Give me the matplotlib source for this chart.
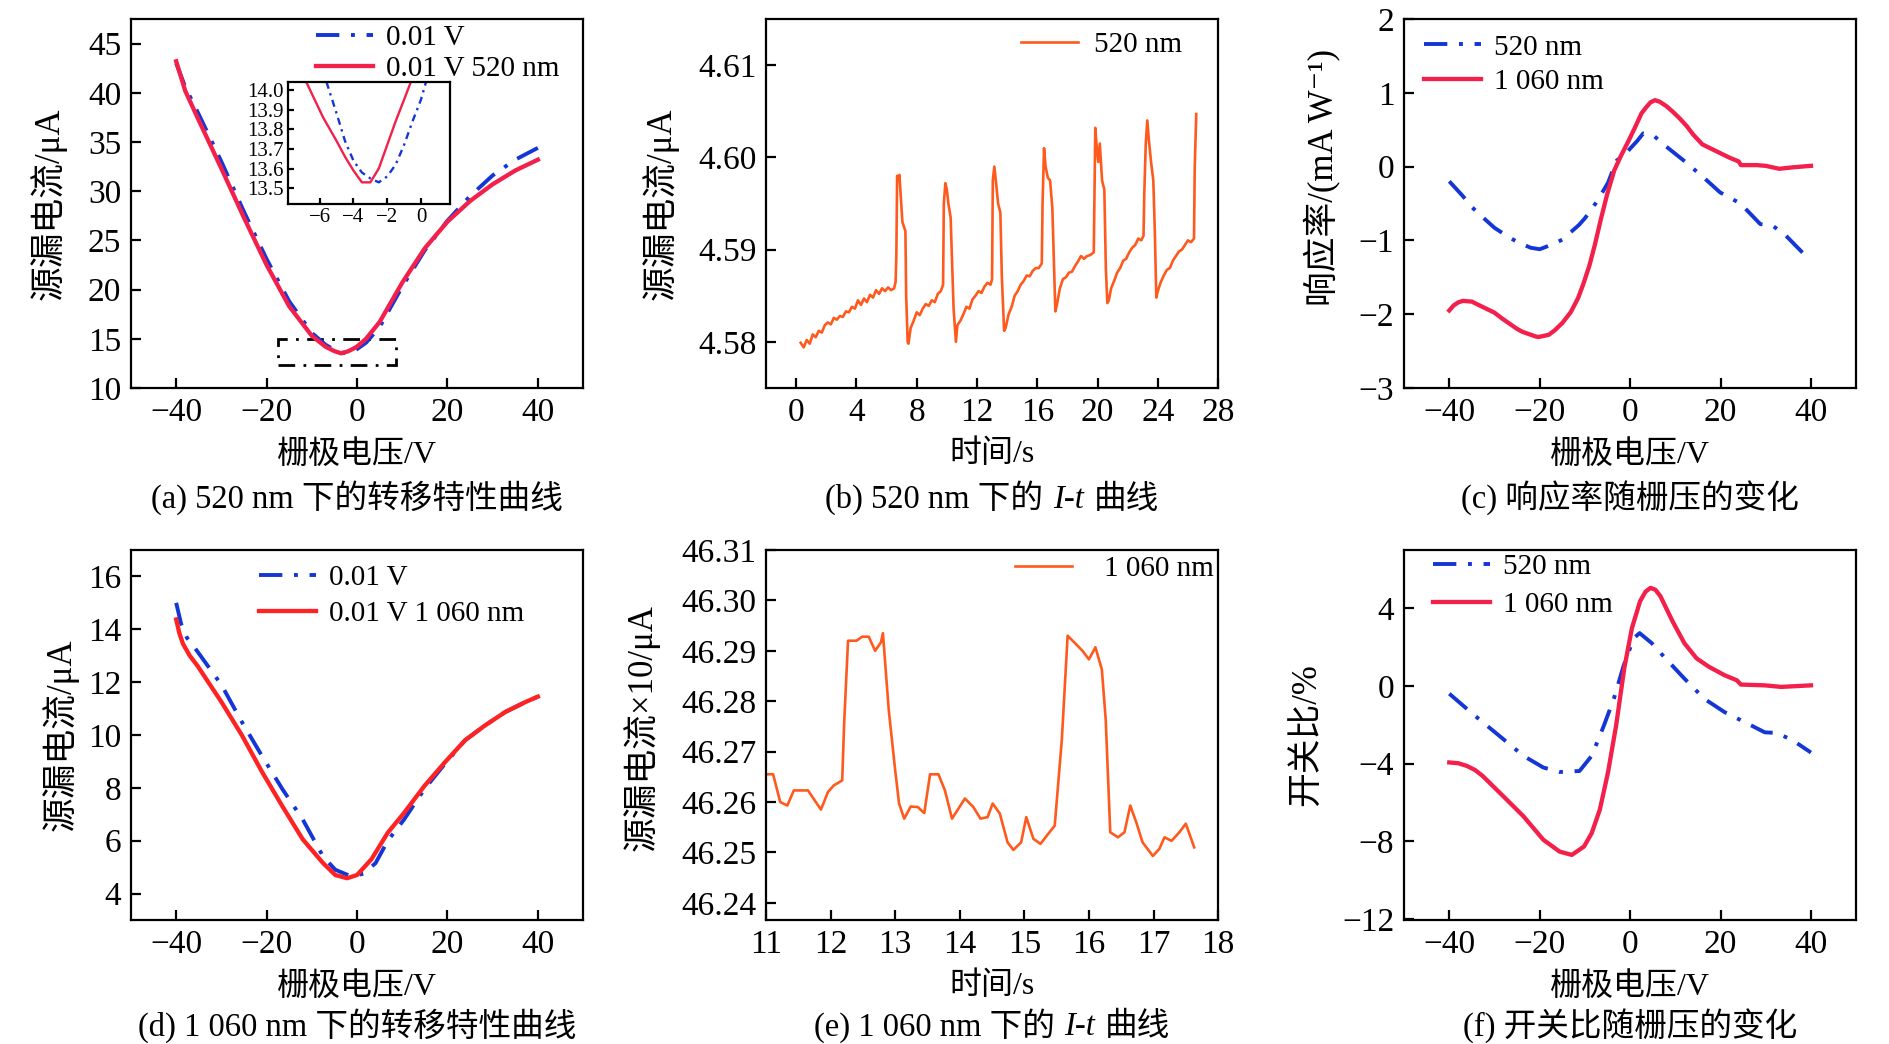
import matplotlib
matplotlib.use("Agg")
import matplotlib.pyplot as plt
from matplotlib.patches import Rectangle
from matplotlib.offsetbox import TextArea, HPacker, AnchoredOffsetbox

plt.rcParams['font.family'] = ['Liberation Serif', 'Noto Sans CJK SC', 'DejaVu Sans']
plt.rcParams['axes.unicode_minus'] = True

# ---- (a) transfer curve, 520 nm ----
a_dark_x = [-40, -38, -35, -30, -25, -20, -15, -10, -7, -5, -3, -2.5, -1, 0, 2, 5, 10, 15, 20, 25, 30, 35, 40]
a_dark_y = [43.0, 40.6, 37.8, 33.0, 27.9, 23.1, 18.8, 15.6, 14.4, 13.88, 13.55, 13.53, 13.72, 13.95, 14.6, 16.2,
            20.3, 24.0, 27.0, 29.5, 31.6, 33.2, 34.4]
a_light_x = [-40, -38, -35, -30, -25, -20, -15, -10, -7, -5, -3.5, -2, -1, 0, 2, 5, 10, 15, 20, 25, 30, 35, 40]
a_light_y = [43.2, 40.2, 37.2, 32.3, 27.3, 22.5, 18.3, 15.3, 14.2, 13.74, 13.52, 13.72, 13.95, 14.2, 15.0, 16.7,
             20.7, 24.2, 26.9, 29.0, 30.7, 32.1, 33.2]
inset_dark_x = [-5.6, -5, -4.5, -4, -3.5, -3, -2.5, -2, -1.5, -1, -0.5, 0, 0.3]
inset_dark_y = [14.04, 13.88, 13.74, 13.64, 13.58, 13.55, 13.53, 13.56, 13.62, 13.72, 13.84, 13.95, 14.04]
inset_light_x = [-6.8, -6.3, -5.8, -5, -4.5, -4, -3.5, -3, -2.5, -2, -1.5, -1, -0.6]
inset_light_y = [14.04, 13.95, 13.86, 13.74, 13.66, 13.59, 13.53, 13.53, 13.6, 13.72, 13.84, 13.95, 14.04]
zoom_box_x = [-17.4, 8.6]
zoom_box_y = [12.3, 15.0]

# ---- (b) I-t, 520 nm ----
b_t = [0.3, 0.5, 0.7, 0.9, 1.1, 1.3, 1.5, 1.7, 1.9, 2.1, 2.3, 2.5, 2.7, 2.9, 3.1, 3.3, 3.5, 3.7, 3.9, 4.1,
       4.3, 4.5, 4.7, 4.9, 5.1, 5.3, 5.5, 5.7, 5.9, 6.1, 6.3, 6.5,
       6.6, 6.65, 6.7, 6.8, 6.85, 6.95, 7.05, 7.25, 7.3, 7.4, 7.45,
       7.6, 7.8, 8.0, 8.2, 8.4, 8.6, 8.8, 9.0, 9.2, 9.4, 9.6, 9.75,
       9.8, 9.9, 10.0, 10.1, 10.25, 10.45, 10.6,
       10.7, 10.9, 11.1, 11.3, 11.5, 11.7, 11.9, 12.1, 12.3, 12.5, 12.7, 12.9, 13.0,
       13.05, 13.15, 13.25, 13.4, 13.55, 13.65, 13.8, 13.9,
       14.1, 14.3, 14.5, 14.7, 14.9, 15.1, 15.3, 15.5, 15.7, 15.9, 16.1, 16.3,
       16.35, 16.45, 16.55, 16.7, 16.85, 17.0, 17.1, 17.2, 17.3,
       17.5, 17.7, 17.9, 18.1, 18.3, 18.5, 18.7, 18.9, 19.1, 19.3, 19.5, 19.75,
       19.8, 19.85, 19.95, 20.05, 20.15, 20.3, 20.45, 20.55, 20.65, 20.75,
       20.9, 21.1, 21.3, 21.5, 21.7, 21.9, 22.1, 22.3, 22.5, 22.7, 22.9, 23.05,
       23.1, 23.2, 23.3, 23.4, 23.55, 23.7, 23.8, 23.9, 24.0,
       24.2, 24.4, 24.6, 24.8, 25.0, 25.2, 25.4, 25.6, 25.8, 26.0, 26.2, 26.4,
       26.45, 26.55]
b_i = [4.5799, 4.5794, 4.5802, 4.5798, 4.5808, 4.5805, 4.5812, 4.5810, 4.5818, 4.5821, 4.5819, 4.5826,
       4.5824, 4.5828, 4.5827, 4.5833, 4.5832, 4.5838, 4.5836, 4.5845, 4.5840, 4.5847, 4.5843, 4.5851,
       4.5848, 4.5856, 4.5852, 4.5858, 4.5855, 4.5859, 4.5856, 4.5858,
       4.5865, 4.5895, 4.5980, 4.5975, 4.5981, 4.5955, 4.5930, 4.5920, 4.5850, 4.5800, 4.5798,
       4.5815, 4.5823, 4.5832, 4.5829, 4.5836, 4.5841, 4.5839, 4.5845, 4.5843, 4.5852, 4.5855, 4.5862,
       4.5950, 4.5972, 4.5965, 4.5950, 4.5935, 4.5835, 4.5800,
       4.5818, 4.5823, 4.5830, 4.5838, 4.5836, 4.5846, 4.5850, 4.5855, 4.5853, 4.5860, 4.5864, 4.5862, 4.5868,
       4.5975, 4.5990, 4.5975, 4.5950, 4.5940, 4.5870, 4.5812, 4.5815,
       4.5830, 4.5838, 4.5850, 4.5855, 4.5862, 4.5866, 4.5872, 4.5871, 4.5877, 4.5880, 4.5880, 4.5885,
       4.5950, 4.6010, 4.5990, 4.5978, 4.5975, 4.5945, 4.5890, 4.5833, 4.5840,
       4.5858, 4.5868, 4.5870, 4.5875, 4.5876, 4.5882, 4.5887, 4.5893, 4.5890, 4.5893, 4.5894, 4.5897,
       4.5960, 4.6032, 4.6010, 4.5995, 4.6015, 4.5975, 4.5965, 4.5880, 4.5842, 4.5845,
       4.5858, 4.5866, 4.5875, 4.5880, 4.5888, 4.5890, 4.5897, 4.5902, 4.5905, 4.5912, 4.5910, 4.5915,
       4.5960, 4.6015, 4.6040, 4.6020, 4.5995, 4.5975, 4.5920, 4.5848, 4.5855,
       4.5865, 4.5872, 4.5878, 4.5880, 4.5888, 4.5893, 4.5898, 4.5900, 4.5905, 4.5910, 4.5908, 4.5912,
       4.5990, 4.6047]

# ---- (c) responsivity ----
c_520_x = [-40, -37, -35, -32, -30, -27, -25, -22, -20, -17, -15, -11.3, -10, -7.3, -4.9, -3, -1.1, 1.6, 2.9,
           5.2, 7.4, 11.9, 16.3, 19.9, 24.4, 28.8, 31.5, 34.2, 39.0]
c_520_y = [-0.2, -0.4, -0.55, -0.72, -0.83, -0.95, -1.02, -1.1, -1.12, -1.05, -0.99, -0.79, -0.7, -0.47,
           -0.22, 0.08, 0.17, 0.35, 0.45, 0.42, 0.3, 0.08, -0.15, -0.35, -0.5, -0.78, -0.8, -0.92, -1.22]
c_1060_x = [-40, -39, -38, -37, -35, -33.7, -30, -28.3, -25, -23.8, -21, -20.3, -18, -16.7, -15, -13.1, -11.5,
            -10.4, -9, -7.8, -6.5, -5.1, -3.5, -2, -0.5, 1, 2.5, 3.5, 4.5, 5.5, 6.5, 8, 9.5, 11, 12.5, 14, 16,
            18, 20, 22, 24, 24.5, 28, 30, 33, 36, 40]
c_1060_y = [-1.95, -1.88, -1.84, -1.82, -1.83, -1.87, -1.98, -2.06, -2.2, -2.24, -2.3, -2.31, -2.28, -2.22,
            -2.12, -1.97, -1.78, -1.6, -1.34, -1.06, -0.72, -0.38, -0.05, 0.15, 0.33, 0.52, 0.72, 0.8, 0.87,
            0.9, 0.88, 0.82, 0.74, 0.65, 0.55, 0.43, 0.3, 0.24, 0.18, 0.12, 0.07, 0.02, 0.02, 0.01, -0.03,
            -0.01, 0.01]

# ---- (d) transfer curve, 1060 nm ----
d_dark_x = [-40, -38.9, -37.6, -35.3, -30, -25.5, -21, -16.5, -12, -7.5, -4.8, -1.3, 1.4, 4.1, 6.8, 10.4,
            14.9, 19.4, 23.9, 28.3, 32.8, 37.3, 40]
d_dark_y = [15.0, 14.2, 13.67, 13.16, 11.9, 10.5, 9.2, 7.95, 6.8, 5.4, 4.9, 4.65, 4.75, 5.15, 6.0, 6.8,
            7.95, 8.9, 9.8, 10.36, 10.87, 11.25, 11.45]
d_light_x = [-40, -39.3, -38.5, -37, -35.3, -30, -25.5, -21, -16.5, -12, -7.5, -4.8, -2.2, 0, 3.2, 6.8, 10.4,
             14.9, 19.4, 23.9, 28.3, 32.8, 37.3, 40]
d_light_y = [14.37, 13.85, 13.45, 13.0, 12.62, 11.25, 10.0, 8.6, 7.3, 6.05, 5.15, 4.7, 4.58, 4.7, 5.3, 6.3,
             7.05, 8.07, 8.96, 9.8, 10.36, 10.87, 11.25, 11.45]

# ---- (e) I-t, 1060 nm ----
e_t = [11.0, 11.11, 11.22, 11.33, 11.43, 11.65, 11.85, 11.96, 12.05, 12.18, 12.21, 12.27, 12.4, 12.49, 12.59,
       12.69, 12.78, 12.81, 12.9, 13.0, 13.06, 13.14, 13.24, 13.35, 13.45, 13.54, 13.67, 13.77, 13.88, 13.98,
       14.08, 14.21, 14.32, 14.43, 14.51, 14.62, 14.74, 14.83, 14.95, 15.03, 15.14, 15.25, 15.37, 15.47, 15.58,
       15.67, 15.77, 15.9, 16.0, 16.1, 16.2, 16.26, 16.33, 16.45, 16.55, 16.64, 16.74, 16.83, 16.99, 17.09,
       17.17, 17.28, 17.4, 17.5, 17.63]
e_i = [46.2655, 46.2655, 46.2600, 46.2593, 46.2623, 46.2623, 46.2585, 46.2620, 46.2633, 46.2643, 46.2757,
       46.2920, 46.2920, 46.2928, 46.2928, 46.2900, 46.2917, 46.2935, 46.2783, 46.2663, 46.2597, 46.2567,
       46.2591, 46.2590, 46.2578, 46.2655, 46.2655, 46.2623, 46.2567, 46.2587, 46.2607, 46.2590, 46.2567,
       46.2570, 46.2597, 46.2577, 46.2520, 46.2505, 46.2520, 46.2570, 46.2527, 46.2517, 46.2537, 46.2553,
       46.2723, 46.2930, 46.2917, 46.2900, 46.2883, 46.2907, 46.2863, 46.2763, 46.2540, 46.2530, 46.2540,
       46.2593, 46.2557, 46.2520, 46.2493, 46.2507, 46.2530, 46.2523, 46.2540, 46.2557, 46.2510]

# ---- (f) on/off ratio ----
f_520_x = [-40, -34.4, -28.1, -23.6, -19.2, -15.6, -11.2, -8.5, -5.8, -3.6, -1.4, 0.8, 2.1, 4.8, 7.5, 12,
           16.4, 20.9, 25.4, 29.8, 32.5, 36.1, 40]
f_520_y = [-0.4, -1.52, -2.73, -3.6, -4.2, -4.43, -4.38, -3.6, -2.04, -0.66, 1.07, 2.46, 2.72, 2.2, 1.5, 0.38,
           -0.66, -1.35, -1.87, -2.39, -2.42, -2.82, -3.43]
f_1060_x = [-40, -38, -36.1, -34.3, -32.6, -28.1, -23.6, -19.2, -15.6, -12.9, -10.2, -8.5, -6.7, -4.9, -3.1,
            -1.3, 0.4, 2.2, 3.4, 4.5, 5.6, 6.7, 9.4, 12, 14.7, 17.4, 20.9, 23.6, 24.5, 29.8, 33.4, 40]
f_1060_y = [-3.94, -3.98, -4.12, -4.33, -4.64, -5.67, -6.71, -7.92, -8.53, -8.7, -8.27, -7.58, -6.37, -4.46,
            -2.04, 0.9, 2.98, 4.36, 4.85, 5.05, 4.95, 4.62, 3.32, 2.2, 1.42, 0.99, 0.55, 0.29, 0.07, 0.03,
            -0.05, 0.03]

BLUE = '#1436d6'
CRIMSON = '#f2204a'
RED = '#ff2222'
ORANGE = '#ff5a1e'
DASHDOT = (0, (6, 3, 1, 3))
TICK = 24
XLABEL = 23
YLABEL = 25
LEG = 21
CAP = 23.5

fig = plt.figure(figsize=(18.9, 10.44), dpi=100)
lefts = [0.0693, 0.4053, 0.7429]
W = 0.2392
top_b, top_h = 0.6284, 0.3534
bot_b, bot_h = 0.1188, 0.3544
axs = [fig.add_axes([l, top_b, W, top_h]) for l in lefts] + [fig.add_axes([l, bot_b, W, bot_h]) for l in lefts]


def style(ax, size=TICK, pad=7, length=7):
    for s in ax.spines.values():
        s.set_linewidth(1.6)
    ax.tick_params(direction='in', length=length, width=1.6, labelsize=size, pad=pad,
                   top=False, right=False)


def legend(ax, x, y, tpad=0.45, spacing=0.1):
    ax.legend(loc='upper left', bbox_to_anchor=(x, y), frameon=False, fontsize=LEG,
              borderpad=0, borderaxespad=0, handlelength=1.95, handletextpad=tpad, labelspacing=spacing)


def labels(ax, xl, yl):
    ax.set_xlabel(xl, fontsize=XLABEL)
    ax.set_ylabel(yl, fontsize=YLABEL)


# (a)
ax = axs[0]
ax.plot(a_dark_x, a_dark_y, color=BLUE, lw=2.8, ls=DASHDOT, label='0.01 V')
ax.plot(a_light_x, a_light_y, color=CRIMSON, lw=3.1, label='0.01 V 520 nm')
ax.add_patch(Rectangle((zoom_box_x[0], zoom_box_y[0]), zoom_box_x[1] - zoom_box_x[0],
                       zoom_box_y[1] - zoom_box_y[0], fill=False, ec='black', lw=2, ls=(0, (6, 3, 1, 3))))
ax.set_xlim(-50, 50)
ax.set_ylim(10, 47.5)
ax.set_xticks([-40, -20, 0, 20, 40])
ax.set_yticks([10, 15, 20, 25, 30, 35, 40, 45])
labels(ax, '栅极电压/V', '源漏电流/μA')
style(ax)
legend(ax, 0.41, 0.984, spacing=0.15)

ins = fig.add_axes([0.1522, 0.8046, 0.0857, 0.1169])
ins.plot(inset_dark_x, inset_dark_y, color=BLUE, lw=1.7, ls=(0, (3, 2, 1, 2)))
ins.plot(inset_light_x, inset_light_y, color=CRIMSON, lw=1.7)
ins.set_xlim(-7.9, 1.7)
ins.set_ylim(13.42, 14.04)
ins.set_xticks([-6, -4, -2, 0])
ins.set_yticks([13.5, 13.6, 13.7, 13.8, 13.9, 14.0])
ins.set_yticklabels(['13.5', '13.6', '13.7', '13.8', '13.9', '14.0'])
style(ins, size=15, pad=3, length=4)

# (b)
ax = axs[1]
ax.plot(b_t, b_i, color=ORANGE, lw=1.9, label='520 nm')
ax.set_xlim(-2, 28)
ax.set_ylim(4.575, 4.615)
ax.set_xticks(range(0, 29, 4))
ax.set_yticks([4.58, 4.59, 4.60, 4.61])
ax.set_yticklabels(['4.58', '4.59', '4.60', '4.61'])
labels(ax, '时间/s', '源漏电流/μA')
style(ax)
legend(ax, 0.565, 0.966, tpad=0.55)

# (c)
ax = axs[2]
ax.plot(c_520_x, c_520_y, color=BLUE, lw=2.8, ls=DASHDOT, label='520 nm')
ax.plot(c_1060_x, c_1060_y, color=CRIMSON, lw=3.1, label='1 060 nm')
ax.set_xlim(-50, 50)
ax.set_ylim(-3, 2)
ax.set_xticks([-40, -20, 0, 20, 40])
ax.set_yticks([-3, -2, -1, 0, 1, 2])
labels(ax, '栅极电压/V', '响应率/(mA W⁻¹)')
style(ax)
legend(ax, 0.044, 0.959, spacing=0.27)

# (d)
ax = axs[3]
ax.plot(d_dark_x, d_dark_y, color=BLUE, lw=2.8, ls=DASHDOT, label='0.01 V')
ax.plot(d_light_x, d_light_y, color=RED, lw=3.1, label='0.01 V 1 060 nm')
ax.set_xlim(-50, 50)
ax.set_ylim(3, 17)
ax.set_xticks([-40, -20, 0, 20, 40])
ax.set_yticks([4, 6, 8, 10, 12, 14, 16])
labels(ax, '栅极电压/V', '源漏电流/μA')
style(ax)
legend(ax, 0.283, 0.96, spacing=0.33)

# (e)
ax = axs[4]
ax.plot(e_t, e_i, color=ORANGE, lw=1.9, label='1 060 nm')
ax.set_xlim(11, 18)
ax.set_ylim(46.2366, 46.31)
ax.set_xticks(range(11, 19))
ax.set_yticks([46.24, 46.25, 46.26, 46.27, 46.28, 46.29, 46.30, 46.31])
ax.set_yticklabels(['46.24', '46.25', '46.26', '46.27', '46.28', '46.29', '46.30', '46.31'])
labels(ax, '时间/s', '源漏电流×10/μA')
style(ax)
legend(ax, 0.55, 0.984, tpad=1.1)

# (f)
ax = axs[5]
ax.plot(f_520_x, f_520_y, color=BLUE, lw=2.8, ls=DASHDOT, label='520 nm')
ax.plot(f_1060_x, f_1060_y, color=CRIMSON, lw=3.1, label='1 060 nm')
ax.set_xlim(-50, 50)
ax.set_ylim(-12.05, 7)
ax.set_xticks([-40, -20, 0, 20, 40])
ax.set_yticks([-12, -8, -4, 0, 4])
labels(ax, '栅极电压/V', '开关比/%')
style(ax)
legend(ax, 0.064, 0.989, spacing=0.38)

ylab_x = [-0.142, -0.193, -0.139, -0.115, -0.235, -0.179]
ylab_y = [0.5, 0.5, 0.57, 0.5, 0.52, 0.5]
for ax, lx, ly in zip(axs, ylab_x, ylab_y):
    ax.yaxis.set_label_coords(lx, ly)
    ax.xaxis.set_label_coords(0.5, -0.14)

# captions
cap_y_top, cap_y_bot = 0.523, 0.018
centers = [l + W / 2 for l in lefts]
fig.text(centers[0], cap_y_top, '(a) 520 nm 下的转移特性曲线', ha='center', va='center', fontsize=CAP)
fig.text(centers[2], cap_y_top, '(c) 响应率随栅压的变化', ha='center', va='center', fontsize=CAP)
fig.text(centers[0], cap_y_bot, '(d) 1 060 nm 下的转移特性曲线', ha='center', va='center', fontsize=CAP)
fig.text(centers[2], cap_y_bot, '(f) 开关比随栅压的变化', ha='center', va='center', fontsize=CAP)


def it_caption(x, y, head):
    parts = [TextArea(head, textprops=dict(fontsize=CAP)),
             TextArea('I-t', textprops=dict(fontsize=CAP, style='italic')),
             TextArea('曲线', textprops=dict(fontsize=CAP))]
    box = HPacker(children=parts, align='baseline', pad=0, sep=7)
    anch = AnchoredOffsetbox(loc='center', child=box, pad=0, borderpad=0, frameon=False,
                             bbox_to_anchor=(x, y), bbox_transform=fig.transFigure)
    fig.add_artist(anch)


it_caption(centers[1], cap_y_top, '(b) 520 nm 下的')
it_caption(centers[1], cap_y_bot, '(e) 1 060 nm 下的')

fig.savefig('out.png', dpi=100)
